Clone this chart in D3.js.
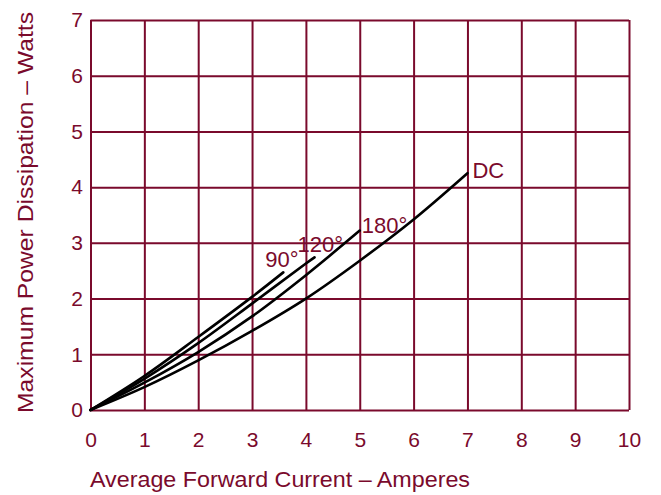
<!DOCTYPE html>
<html>
<head>
<meta charset="utf-8">
<script src="https://cdn.jsdelivr.net/npm/d3@7"></script>
<style>
  html, body { margin: 0; padding: 0; background: #fff; }
  svg { display: block; }
  text { font-family: "Liberation Sans", Arial, sans-serif; fill: #7a0a2c; }
</style>
</head>
<body>
<svg id="chart" width="661" height="495"></svg>
<script>
// ---- data ----
const xTicks = [0,1,2,3,4,5,6,7,8,9,10];
const yTicks = [0,1,2,3,4,5,6,7];

const dcX   = [0, 1, 2, 3, 4, 5, 6, 7];
const dcY   = [0, 0.41, 0.89, 1.42, 2.0, 2.68, 3.42, 4.25];

const d180X = [0, 1, 2, 3, 4, 5];
const d180Y = [0, 0.49, 1.04, 1.68, 2.42, 3.22];

const d120X = [0, 1, 2, 3, 4, 4.16];
const d120Y = [0, 0.56, 1.2, 1.91, 2.63, 2.74];

const d90X  = [0, 1, 2, 3, 3.58];
const d90Y  = [0, 0.61, 1.31, 2.03, 2.47];

const seriesLabels = ["90°", "120°", "180°", "DC"];
const xTitle = "Average Forward Current – Amperes";
const yTitle = "Maximum Power Dissipation – Watts";

// ---- layout ----
const maroon = "#7a0a2c";
const mLeft = 90.5, mRight = 629, mTop = 20, mBottom = 410;
const svg = d3.select("#chart");

const x = d3.scaleLinear().domain([0, 10]).range([mLeft, mRight]);
const y = d3.scaleLinear().domain([0, 7]).range([mBottom, mTop]);

// grid + x labels
const gx = svg.append("g")
  .attr("transform", `translate(0,${mBottom})`)
  .call(d3.axisBottom(x).tickValues(xTicks).tickFormat(d3.format("d"))
        .tickSize(-(mBottom - mTop)).tickPadding(22));
gx.select(".domain").remove();
gx.selectAll("line").attr("stroke", maroon).attr("stroke-width", 2);
gx.selectAll("text").attr("font-size", 21).attr("fill", maroon)
  .style("font-family", "'Liberation Sans', Arial, sans-serif");

const gy = svg.append("g")
  .attr("transform", `translate(${mLeft},0)`)
  .call(d3.axisLeft(y).tickValues(yTicks).tickFormat(d3.format("d"))
        .tickSize(-(mRight - mLeft)).tickPadding(7.5));
gy.select(".domain").remove();
gy.selectAll("line").attr("stroke", maroon).attr("stroke-width", 2);
gy.selectAll("text").attr("font-size", 21).attr("fill", maroon)
  .style("font-family", "'Liberation Sans', Arial, sans-serif");

// curves
const line = d3.line().x(d => x(d[0])).y(d => y(d[1])).curve(d3.curveCatmullRom.alpha(0.5));
const series = [
  [d90X, d90Y],
  [d120X, d120Y],
  [d180X, d180Y],
  [dcX, dcY]
];
series.forEach(([xs, ys]) => {
  svg.append("path")
    .attr("d", line(xs.map((v, i) => [v, ys[i]])))
    .attr("fill", "none")
    .attr("stroke", "#000")
    .attr("stroke-width", 2.6)
    .attr("stroke-linecap", "round");
});

// curve labels (anchored to curve ends)
const labelPos = [
  { s: 0, dx: -18, dy: -5 },
  { s: 1, dx: -17, dy: -5 },
  { s: 2, dx: 2,   dy: 2 },
  { s: 3, dx: 5,   dy: 5 }
];
labelPos.forEach(p => {
  const [xs, ys] = series[p.s];
  const n = xs.length - 1;
  svg.append("text")
    .attr("x", x(xs[n]) + p.dx)
    .attr("y", y(ys[n]) + p.dy)
    .attr("font-size", 22)
    .attr("fill", maroon)
    .text(seriesLabels[p.s]);
});

// axis titles
svg.append("text")
  .attr("x", 90).attr("y", 486.5)
  .attr("font-size", 22.5)
  .attr("textLength", 380).attr("lengthAdjust", "spacingAndGlyphs")
  .text(xTitle);

svg.append("text")
  .attr("transform", "translate(33,413) rotate(-90)")
  .attr("font-size", 22.5)
  .attr("textLength", 401).attr("lengthAdjust", "spacingAndGlyphs")
  .text(yTitle);
</script>
</body>
</html>
